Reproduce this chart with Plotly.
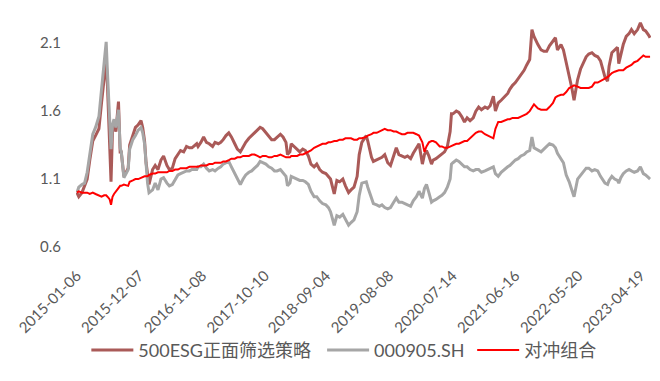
import plotly.graph_objects as go

dates = [
    "2015-01-06","2015-01-16","2015-02-02","2015-02-16","2015-03-02","2015-03-16","2015-04-01","2015-04-16",
    "2015-05-04","2015-05-18","2015-06-01","2015-06-12","2015-06-19","2015-07-01","2015-07-08","2015-07-16",
    "2015-07-24","2015-08-03","2015-08-17","2015-08-26","2015-09-01","2015-09-15","2015-10-08","2015-10-16",
    "2015-11-02","2015-11-16","2015-12-01","2015-12-16","2015-12-25",
    "2016-01-04","2016-01-12","2016-01-20","2016-01-28","2016-02-16","2016-03-01","2016-03-16","2016-04-01",
    "2016-04-15","2016-05-03","2016-05-16","2016-06-01","2016-06-16","2016-07-01","2016-07-15","2016-08-01",
    "2016-08-16","2016-09-01","2016-09-14","2016-10-10","2016-10-17","2016-11-01","2016-11-16","2016-12-01",
    "2016-12-16",
    "2017-01-03","2017-01-16","2017-02-03","2017-02-16","2017-03-01","2017-03-16","2017-03-31","2017-04-14",
    "2017-05-02","2017-05-16","2017-06-01","2017-06-16","2017-06-30","2017-07-17","2017-08-01","2017-08-16",
    "2017-09-01","2017-09-15","2017-09-29","2017-10-16","2017-11-01","2017-11-16","2017-12-01","2017-12-15",
    "2018-01-02","2018-01-16","2018-02-01","2018-02-09","2018-02-22","2018-03-01","2018-03-16","2018-04-02",
    "2018-04-16","2018-05-02","2018-05-16","2018-06-01","2018-06-15","2018-07-02","2018-07-16","2018-08-01",
    "2018-08-16","2018-09-03","2018-09-17","2018-09-28","2018-10-18","2018-11-01","2018-11-16","2018-12-03",
    "2018-12-17",
    "2019-01-03","2019-01-16","2019-02-01","2019-02-18","2019-03-01","2019-03-15","2019-04-08","2019-04-16",
    "2019-05-06","2019-05-16","2019-06-03","2019-06-17","2019-07-01","2019-07-16","2019-08-01","2019-08-16",
    "2019-09-02","2019-09-16","2019-09-30","2019-10-16","2019-11-01","2019-11-15","2019-12-02","2019-12-16",
    "2020-01-02","2020-01-16","2020-02-03","2020-02-14","2020-02-25","2020-03-09","2020-03-23","2020-04-01",
    "2020-04-16","2020-05-06","2020-05-18","2020-06-01","2020-06-16","2020-07-01","2020-07-08","2020-07-16",
    "2020-08-03","2020-08-17","2020-09-01","2020-09-16","2020-09-30","2020-10-16","2020-11-02","2020-11-16",
    "2020-12-01","2020-12-16",
    "2021-01-04","2021-01-18","2021-02-01","2021-02-18","2021-03-01","2021-03-16","2021-04-01","2021-04-16",
    "2021-05-06","2021-05-17","2021-06-01","2021-06-16","2021-07-01","2021-07-16","2021-08-02","2021-08-16",
    "2021-09-01","2021-09-13","2021-09-24","2021-10-15","2021-11-01","2021-11-16","2021-12-01","2021-12-16",
    "2022-01-04","2022-01-17","2022-01-28","2022-02-16","2022-03-01","2022-03-16","2022-04-01","2022-04-15",
    "2022-04-27","2022-05-16","2022-06-01","2022-06-16","2022-07-01","2022-07-15","2022-08-01","2022-08-16",
    "2022-09-01","2022-09-16","2022-10-10","2022-10-24","2022-11-01","2022-11-16","2022-12-01","2022-12-16",
    "2022-12-23",
    "2023-01-03","2023-01-16","2023-02-01","2023-02-16","2023-03-01","2023-03-16","2023-04-03","2023-04-18",
    "2023-05-04","2023-05-16","2023-06-01","2023-06-09",
]

strategy = [
    1.00,0.97,1.00,1.05,1.10,1.24,1.38,1.42,
    1.47,1.66,1.86,1.98,1.78,1.35,1.08,1.46,
    1.50,1.45,1.67,1.30,1.30,1.12,1.18,1.35,
    1.43,1.48,1.50,1.53,1.48,
    1.38,1.22,1.12,1.06,1.17,1.20,1.17,1.24,
    1.27,1.20,1.17,1.18,1.25,1.28,1.31,1.30,
    1.34,1.33,1.33,1.36,1.34,1.37,1.41,1.37,
    1.36,
    1.34,1.37,1.36,1.37,1.39,1.42,1.44,1.41,
    1.36,1.32,1.30,1.34,1.37,1.40,1.42,1.44,
    1.46,1.48,1.47,1.44,1.42,1.39,1.39,1.41,
    1.43,1.41,1.37,1.28,1.30,1.36,1.34,1.32,
    1.30,1.32,1.31,1.27,1.21,1.19,1.21,1.17,
    1.15,1.14,1.12,1.10,0.99,1.09,1.08,1.10,
    1.05,
    1.00,1.02,1.04,1.12,1.28,1.37,1.42,1.38,
    1.26,1.23,1.24,1.25,1.26,1.28,1.22,1.20,
    1.27,1.33,1.28,1.27,1.26,1.27,1.25,1.29,
    1.33,1.36,1.21,1.28,1.31,1.27,1.21,1.24,
    1.25,1.27,1.28,1.30,1.34,1.45,1.58,1.58,
    1.60,1.59,1.56,1.52,1.55,1.53,1.55,1.60,
    1.63,1.61,
    1.63,1.62,1.64,1.71,1.60,1.66,1.68,1.70,
    1.73,1.76,1.79,1.81,1.84,1.87,1.90,1.94,
    1.98,2.20,2.15,2.09,2.05,2.04,2.04,2.08,
    2.12,2.14,2.05,2.09,2.05,1.96,1.85,1.77,
    1.68,1.83,1.91,1.96,2.00,2.02,2.03,2.01,
    2.00,1.97,1.85,1.82,1.93,2.03,2.05,2.07,
    1.95,
    2.02,2.09,2.15,2.17,2.20,2.17,2.20,2.25,
    2.20,2.19,2.16,2.14,
]

index_000905 = [
    1.00,1.04,1.06,1.07,1.15,1.28,1.43,1.48,
    1.56,1.76,1.98,2.11,1.88,1.45,1.32,1.50,
    1.54,1.48,1.61,1.33,1.30,1.11,1.17,1.32,
    1.39,1.42,1.46,1.48,1.44,
    1.36,1.17,1.07,1.00,1.02,1.07,1.02,1.10,
    1.11,1.07,1.05,1.06,1.10,1.13,1.14,1.15,
    1.16,1.16,1.17,1.17,1.19,1.19,1.21,1.18,
    1.16,
    1.17,1.16,1.18,1.19,1.21,1.22,1.23,1.19,
    1.14,1.10,1.06,1.10,1.13,1.15,1.16,1.18,
    1.20,1.23,1.22,1.21,1.19,1.18,1.16,1.16,
    1.17,1.15,1.12,1.05,1.07,1.12,1.11,1.10,
    1.09,1.09,1.08,1.06,1.01,0.97,0.97,0.94,
    0.92,0.91,0.89,0.86,0.76,0.83,0.82,0.84,
    0.80,
    0.76,0.78,0.80,0.86,0.98,1.07,1.08,1.04,
    0.95,0.92,0.91,0.90,0.91,0.89,0.88,0.89,
    0.93,0.96,0.93,0.93,0.92,0.91,0.90,0.94,
    0.97,1.01,0.96,1.03,1.06,1.00,0.93,0.94,
    0.95,0.97,0.98,1.00,1.04,1.10,1.21,1.22,
    1.24,1.23,1.21,1.19,1.19,1.17,1.16,1.17,
    1.17,1.15,
    1.16,1.17,1.18,1.19,1.14,1.12,1.15,1.17,
    1.19,1.20,1.22,1.24,1.25,1.27,1.28,1.30,
    1.31,1.41,1.33,1.31,1.30,1.32,1.34,1.36,
    1.35,1.33,1.29,1.25,1.22,1.13,1.08,1.02,
    0.97,1.10,1.13,1.15,1.18,1.18,1.16,1.17,
    1.16,1.12,1.07,1.06,1.09,1.12,1.10,1.09,
    1.07,
    1.11,1.14,1.16,1.17,1.16,1.15,1.16,1.19,
    1.14,1.13,1.11,1.10,
]

hedge = [
    1.00,1.01,1.00,1.00,1.00,0.99,1.00,0.99,
    0.98,0.97,0.98,0.98,0.97,0.95,0.91,0.97,
    0.99,1.01,1.03,1.05,1.05,1.06,1.05,1.08,
    1.09,1.10,1.10,1.11,1.11,
    1.12,1.12,1.12,1.13,1.14,1.14,1.15,1.15,
    1.15,1.15,1.16,1.16,1.17,1.17,1.18,1.18,
    1.18,1.19,1.19,1.19,1.19,1.20,1.20,1.20,
    1.21,
    1.21,1.22,1.22,1.22,1.23,1.23,1.24,1.25,
    1.25,1.26,1.26,1.27,1.27,1.27,1.28,1.28,
    1.27,1.26,1.27,1.27,1.26,1.26,1.27,1.27,
    1.28,1.27,1.26,1.26,1.26,1.27,1.27,1.27,
    1.28,1.28,1.29,1.30,1.31,1.33,1.34,1.35,
    1.36,1.36,1.37,1.37,1.38,1.38,1.39,1.39,
    1.40,
    1.40,1.40,1.39,1.39,1.40,1.40,1.41,1.42,
    1.43,1.44,1.44,1.45,1.46,1.47,1.46,1.46,
    1.45,1.45,1.44,1.43,1.43,1.44,1.44,1.44,
    1.43,1.42,1.37,1.30,1.34,1.37,1.38,1.38,
    1.37,1.34,1.34,1.33,1.33,1.34,1.34,1.35,
    1.36,1.36,1.37,1.38,1.38,1.40,1.42,1.44,
    1.45,1.45,
    1.43,1.42,1.41,1.40,1.47,1.52,1.52,1.53,
    1.54,1.54,1.55,1.55,1.55,1.56,1.57,1.58,
    1.60,1.63,1.65,1.62,1.61,1.61,1.61,1.63,
    1.66,1.70,1.71,1.72,1.72,1.74,1.77,1.78,
    1.79,1.78,1.77,1.77,1.77,1.77,1.78,1.81,
    1.81,1.82,1.84,1.85,1.86,1.88,1.89,1.90,
    1.90,
    1.90,1.90,1.92,1.93,1.94,1.96,1.97,1.99,
    2.01,2.00,2.00,2.00,
]

tick_dates = ["2015-01-06","2015-12-07","2016-11-08","2017-10-10","2018-09-04",
              "2019-08-08","2020-07-14","2021-06-16","2022-05-20","2023-04-19"]
y_ticks = [0.6, 1.1, 1.6, 2.1]
names = ["500ESG正面筛选策略", "000905.SH", "对冲组合"]

FONT = "Lato, 'Noto Sans CJK SC', sans-serif"
TXT = "#595959"

fig = go.Figure()
fig.add_trace(go.Scatter(x=dates, y=strategy, mode="lines", name=names[0], legend="legend",
                         line=dict(color="#AA5A58", width=3)))
fig.add_trace(go.Scatter(x=dates, y=index_000905, mode="lines", name=names[1], legend="legend2",
                         line=dict(color="#A6A6A6", width=3)))
fig.add_trace(go.Scatter(x=dates, y=hedge, mode="lines", name=names[2], legend="legend3",
                         line=dict(color="#FF0000", width=2)))

leg_common = dict(orientation="h", xanchor="left", y=-0.447, yanchor="middle",
                  font=dict(size=18, color=TXT), bgcolor="rgba(0,0,0,0)", itemwidth=42)

# page body adds an 8px offset; figure is shrunk accordingly so the plot sits where the reference does
fig.update_layout(
    width=652, height=373,
    margin=dict(l=68, r=9, t=8, b=134, autoexpand=False),
    paper_bgcolor="white", plot_bgcolor="white",
    font=dict(family=FONT, color=TXT, size=15),
    showlegend=True,
    legend=dict(x=0.018, **leg_common),
    legend2=dict(x=0.428, **leg_common),
    legend3=dict(x=0.689, **leg_common),
    xaxis=dict(type="date", range=["2015-01-01", "2023-06-14"], automargin=False,
               tickmode="array", tickvals=tick_dates, ticktext=tick_dates,
               tickangle=-45, showgrid=False, zeroline=False, showline=False,
               ticks="", tickfont=dict(size=15, color=TXT), ticklabelstandoff=16),
    yaxis=dict(range=[0.6, 2.3], tickmode="array", tickvals=y_ticks, automargin=False,
               ticktext=[f"{v:.1f}" for v in y_ticks],
               showgrid=False, zeroline=False, showline=False, ticks="",
               tickfont=dict(size=15, color=TXT), ticklabelstandoff=14),
)

fig.write_html("out.html")
